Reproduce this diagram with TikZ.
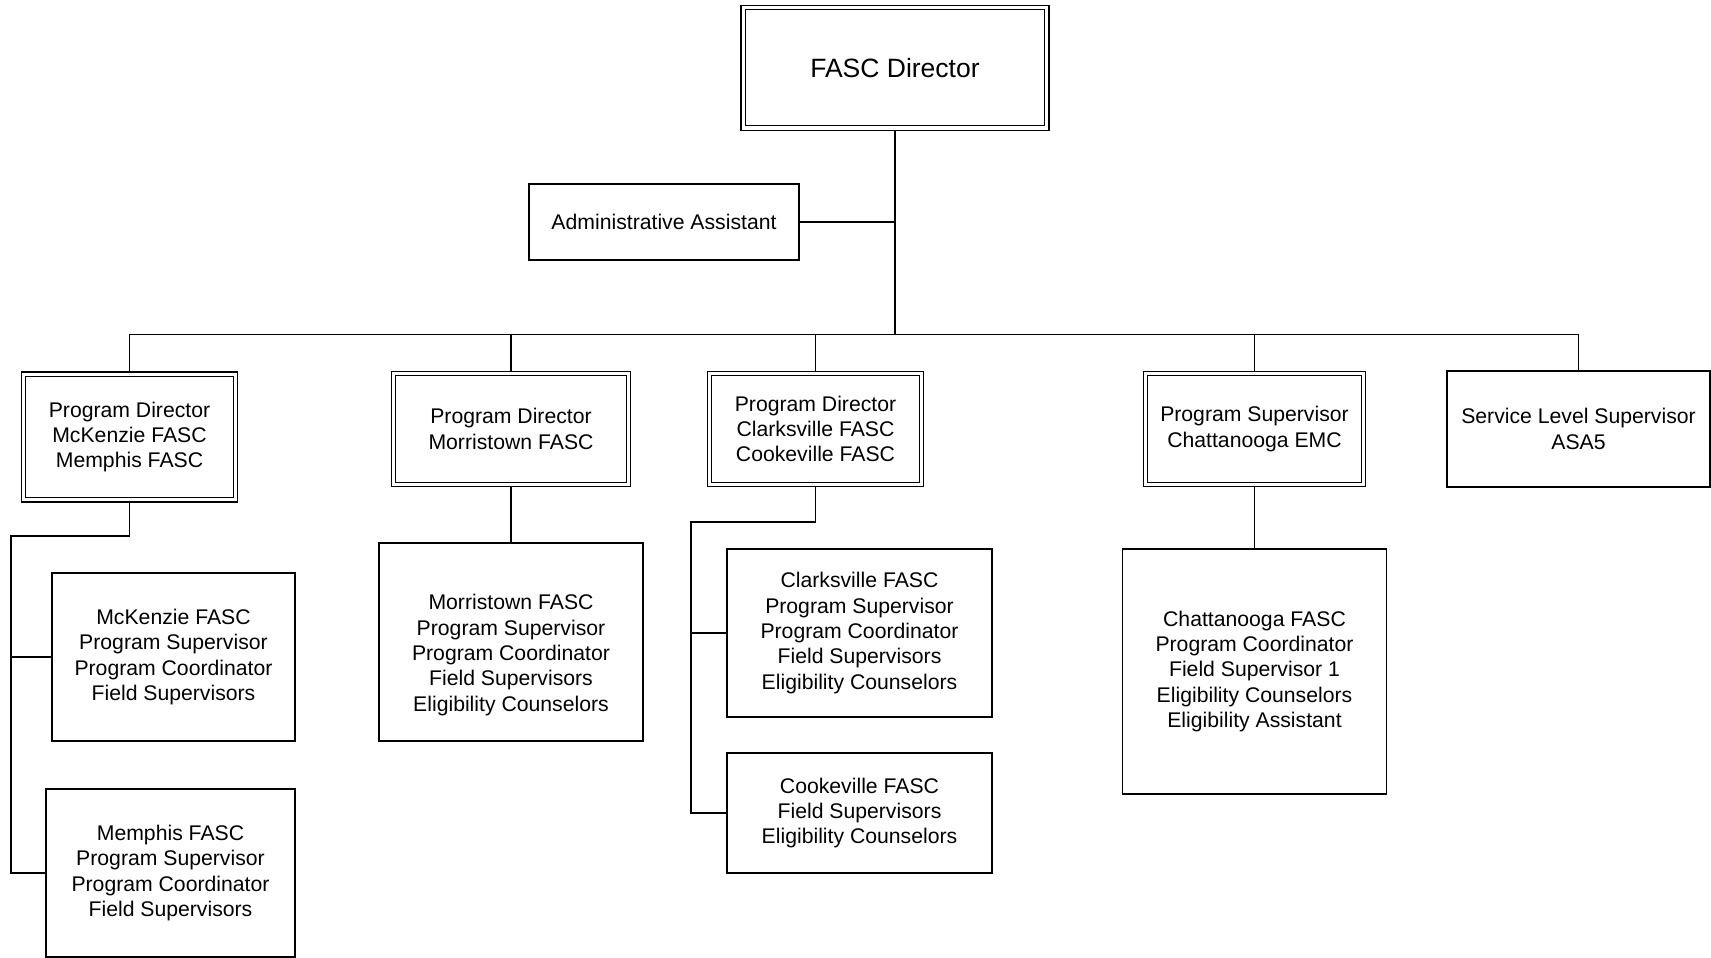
\documentclass[tikz,border=0pt]{standalone}
\usepackage{fontspec}
\setmainfont{Liberation Sans}
\begin{document}
\begin{tikzpicture}[x=1pt,y=-1pt,
  box/.style={draw, line width=1.6pt, fill=white, inner sep=0pt, outer sep=0.8pt, align=center, font=\fontsize{21.2}{25.3}\selectfont},
  dbox/.style={box, line width=1.3pt, double, double distance=3.3pt, outer sep=2.95pt},
  txt/.style={inner sep=0pt, align=center, font=\fontsize{21.2}{25.3}\selectfont},
  conn/.style={line width=1.7pt}]
\useasboundingbox (0,0) rectangle (1711,958);

% nodes
\node[dbox, minimum width=303.5pt, minimum height=120.5pt, font=\fontsize{26.5}{30}\selectfont] (dir) at (895,67.8) {FASC Director};
\node[box, minimum width=270pt, minimum height=76pt] (adm) at (664,222) {Administrative Assistant};

\node[dbox, minimum width=212pt, minimum height=125.5pt] (pd1) at (129.5,437) {Program Director\\McKenzie FASC\\Memphis FASC};
\node[dbox, minimum width=235pt, minimum height=111pt] (pd2) at (511,429) {Program Director\\Morristown FASC};
\node[dbox, minimum width=212pt, minimum height=111pt] (pd3) at (815.5,429) {Program Director\\Clarksville FASC\\Cookeville FASC};
\node[dbox, minimum width=218pt, minimum height=111pt] (pd4) at (1254.5,429) {Program Supervisor\\Chattanooga EMC};
\node[box, minimum width=263pt, minimum height=116pt] (sls) at (1578.5,429) {Service Level Supervisor\\ASA5};

\node[box, minimum width=243pt, minimum height=168pt] (mck) at (173.5,657) {McKenzie FASC\\Program Supervisor\\Program Coordinator\\Field Supervisors};
\node[box, minimum width=249pt, minimum height=168pt] (mem) at (170.5,873) {Memphis FASC\\Program Supervisor\\Program Coordinator\\Field Supervisors};

\node[box, minimum width=264pt, minimum height=198pt] (morc) at (511,642) {};
\node[txt] (morT) at ([yshift=-13pt]morc.center) {Morristown FASC\\Program Supervisor\\Program Coordinator\\Field Supervisors\\Eligibility Counselors};

\node[box, minimum width=265pt, minimum height=168pt] (clk) at (859.5,633) {Clarksville FASC\\Program Supervisor\\Program Coordinator\\Field Supervisors\\Eligibility Counselors};
\node[box, minimum width=265pt, minimum height=120pt] (cook) at (859.5,813) {Cookeville FASC\\Field Supervisors\\Eligibility Counselors};

\node[box, minimum width=264pt, minimum height=245pt] (chc) at (1254.5,671.5) {Chattanooga FASC\\Program Coordinator\\Field Supervisor 1\\Eligibility Counselors\\Eligibility Assistant};

% connectors
\coordinate (bus) at (895,334.5);
\coordinate (lb) at (11,536);
\coordinate (cb) at (691,522);

\draw[conn] (dir.south) -- (bus);
\draw[conn] (adm.east) -- (adm.east -| dir.south);
\draw[conn] (pd1.north) |- (bus) -| (sls.north);
\draw[conn] (pd2.north) -- (pd2.north |- bus);
\draw[conn] (pd3.north) -- (pd3.north |- bus);
\draw[conn] (pd4.north) -- (pd4.north |- bus);

\draw[conn] (pd1.south) |- (lb) |- (mem.west);
\draw[conn] (lb |- mck.west) -- (mck.west);

\draw[conn] (pd2.south) -- (morc.north);

\draw[conn] (pd3.south) |- (cb) |- (cook.west);
\draw[conn] (cb |- clk.west) -- (clk.west);

\draw[conn] (pd4.south) -- (chc.north);
\end{tikzpicture}
\end{document}
